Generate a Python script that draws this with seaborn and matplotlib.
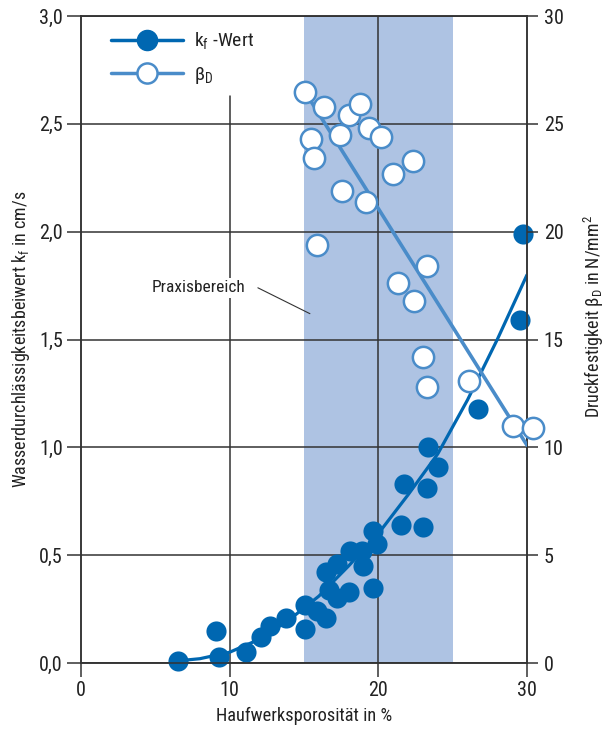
import matplotlib
matplotlib.use("Agg")
import matplotlib.pyplot as plt
from matplotlib.lines import Line2D
from matplotlib import font_manager
import seaborn as sns
import pandas as pd

# Permeability coefficient k_f (cm/s) versus porosity (%)
porosity_kf = [6.5, 9.1, 9.3, 11.1, 12.1, 12.7, 13.8, 15.05, 15.05, 15.85,
               16.5, 16.5, 16.7, 17.2, 17.2, 18.0, 18.1, 18.9, 18.95, 19.65,
               19.65, 19.9, 21.5, 21.75, 23.0, 23.3, 23.35, 24.0, 26.7, 29.5, 29.75]
kf_values = [0.01, 0.15, 0.03, 0.05, 0.12, 0.17, 0.21, 0.27, 0.16, 0.24,
             0.21, 0.42, 0.34, 0.46, 0.30, 0.33, 0.52, 0.52, 0.45, 0.61,
             0.35, 0.55, 0.64, 0.83, 0.63, 0.81, 1.00, 0.91, 1.18, 1.59, 1.99]

# Trend curve for k_f
kf_trend_x = [6.5, 8, 10, 12, 14, 16, 18, 20, 22, 24, 26, 28, 30]
kf_trend_y = [0.01, 0.02, 0.05, 0.11, 0.20, 0.31, 0.45, 0.60, 0.78, 0.97, 1.22, 1.50, 1.80]

# Compressive strength beta_D (N/mm^2) versus porosity (%)
porosity_bd = [15.06, 16.36, 18.04, 18.76, 19.39, 20.15, 15.47, 17.42, 15.65, 22.3,
               20.96, 17.57, 19.17, 15.87, 23.27, 21.3, 22.41, 22.98, 23.25, 26.1,
               29.07, 30.42]
bd_values = [26.5, 25.8, 25.4, 25.9, 24.8, 24.4, 24.3, 24.5, 23.4, 23.3,
             22.7, 21.9, 21.4, 19.4, 18.4, 17.6, 16.8, 14.2, 12.8, 13.1,
             11.0, 10.9]

# Linear trend for beta_D
bd_trend_x = [15.06, 30.0]
bd_trend_y = [26.5, 10.1]

x_ticks = [0, 10, 20, 30]
x_ticklabels = ["0", "10", "20", "30"]
left_ticks = [0.0, 0.5, 1.0, 1.5, 2.0, 2.5, 3.0]
left_ticklabels = ["0,0", "0,5", "1,0", "1,5", "2,0", "2,5", "3,0"]
right_ticks = [0, 5, 10, 15, 20, 25, 30]
right_ticklabels = ["0", "5", "10", "15", "20", "25", "30"]
praxis_range = (15, 25)

DARK = "#0067b1"
LIGHT = "#4a8cc9"
SHADE = "#aec3e3"
GRID = "#333333"
TXT = "#222222"

sns.set_theme(style="ticks")

# Prefer a condensed sans face when one is available
available = {f.name for f in font_manager.fontManager.ttflist}
condensed = [n for n in ["Roboto Condensed", "Liberation Sans Narrow", "Open Sans Condensed"]
             if n in available]
base = condensed[0] if condensed else "Roboto"
plt.rcParams["font.family"] = [base, "DejaVu Sans"]
plt.rcParams["mathtext.fontset"] = "custom"
plt.rcParams["mathtext.rm"] = base
plt.rcParams["mathtext.it"] = base
plt.rcParams["text.color"] = TXT
plt.rcParams["axes.labelcolor"] = TXT
plt.rcParams["xtick.color"] = GRID
plt.rcParams["ytick.color"] = GRID
plt.rcParams["xtick.labelcolor"] = TXT
plt.rcParams["ytick.labelcolor"] = TXT

df_kf = pd.DataFrame({"p": porosity_kf, "kf": kf_values})
df_kf_trend = pd.DataFrame({"p": kf_trend_x, "kf": kf_trend_y})
df_bd = pd.DataFrame({"p": porosity_bd, "bd": bd_values})
df_bd_trend = pd.DataFrame({"p": bd_trend_x, "bd": bd_trend_y})

fig = plt.figure(figsize=(6.04, 7.31), dpi=100)
ax = fig.add_axes([0.134, 0.093, 0.7385, 0.885])
ax2 = ax.twinx()

ax.set_xlim(0, 30)
ax.set_ylim(0, 3.0)
ax2.set_ylim(0, 30)

# Practical range band and grid
ax.axvspan(*praxis_range, color=SHADE, lw=0, zorder=0)
for y in left_ticks:
    ax.axhline(y, color=GRID, lw=1.1, zorder=1)
ax.axvline(10, ymin=0, ymax=2.63 / 3.0, color=GRID, lw=1.1, zorder=1)
ax.axvline(20, color=GRID, lw=1.1, zorder=1)

for sp in ["left", "right", "top", "bottom"]:
    ax.spines[sp].set_color(GRID)
    ax.spines[sp].set_linewidth(1.1)
    ax2.spines[sp].set_color(GRID)
    ax2.spines[sp].set_linewidth(1.1)

# k_f series
sns.lineplot(data=df_kf_trend, x="p", y="kf", ax=ax, color=DARK, lw=2.3,
             sort=True, estimator=None, zorder=3)
sns.scatterplot(data=df_kf, x="p", y="kf", ax=ax, color=DARK, s=210,
                edgecolor=DARK, linewidth=0, zorder=4, clip_on=False)

# beta_D series
sns.lineplot(data=df_bd_trend, x="p", y="bd", ax=ax2, color=LIGHT, lw=2.6,
             estimator=None, zorder=3)
sns.scatterplot(data=df_bd, x="p", y="bd", ax=ax2, color="white", s=235,
                edgecolor=LIGHT, linewidth=1.8, zorder=4, clip_on=False)

# Annotation
ax.text(7.9, 1.74, "Praxisbereich", fontsize=12.5, ha="center", va="center",
        bbox=dict(facecolor="white", edgecolor="none", pad=2), zorder=2)
ax.plot([11.9, 15.4], [1.74, 1.62], color=GRID, lw=0.8, zorder=2)

ax.set_xticks(x_ticks)
ax.set_xticklabels(x_ticklabels)
ax.set_yticks(left_ticks)
ax.set_yticklabels(left_ticklabels)
ax2.set_yticks(right_ticks)
ax2.set_yticklabels(right_ticklabels)

ax.tick_params(axis="both", direction="out", length=10, width=1.1, labelsize=14.5, pad=3)
ax2.tick_params(axis="y", direction="out", length=8, width=1.1, labelsize=14.5, pad=4)

ax.set_xlabel("Haufwerksporosität in %", fontsize=13.2, labelpad=5)
ax.set_ylabel("Wasserdurchlässigkeitsbeiwert k$_\\mathrm{f}$ in cm/s", fontsize=13, labelpad=5)
ax2.set_ylabel("Druckfestigkeit β$_\\mathrm{D}$ in N/mm$^\\mathrm{2}$", fontsize=13)
ax2.yaxis.set_label_coords(1.122, 0.535)

handles = [
    Line2D([], [], color=DARK, lw=2.5, marker="o", ms=14.5, mfc=DARK, mec=DARK),
    Line2D([], [], color=LIGHT, lw=2.5, marker="o", ms=14.5, mfc="white", mec=LIGHT, mew=1.8),
]
ax2.legend(handles, ["k$_\\mathrm{f}$ -Wert", "β$_\\mathrm{D}$"], loc="upper left",
           bbox_to_anchor=(0.067, 0.978), frameon=False, fontsize=14,
           handlelength=3.7, handletextpad=0.6, labelspacing=0.7,
           borderpad=0, borderaxespad=0)

fig.savefig("out.png", dpi=100)
